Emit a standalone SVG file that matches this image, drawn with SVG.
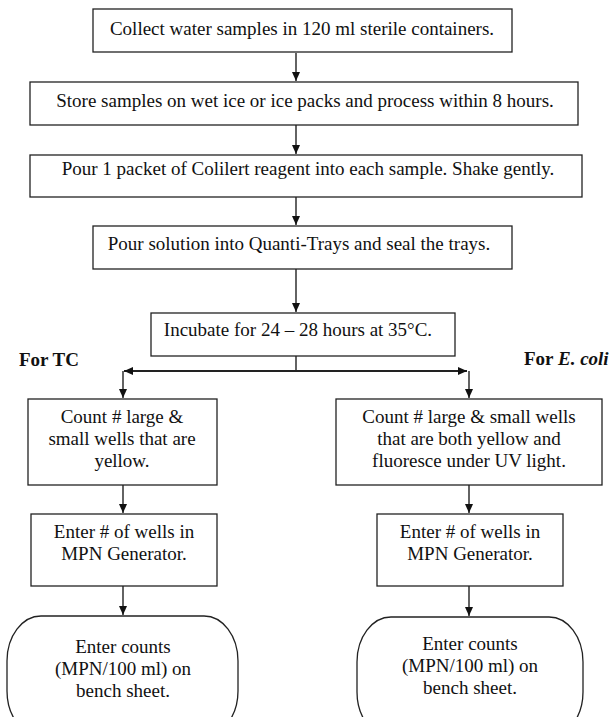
<svg xmlns="http://www.w3.org/2000/svg" width="611" height="717" viewBox="0 0 611 717">
<style>
.box{fill:#fff;stroke:#222;stroke-width:1.3}
text{font-family:'Liberation Serif','Times New Roman',serif;font-size:19px;fill:#111}
.t{text-anchor:middle}
.b{font-weight:bold}
.c{fill:none;stroke:#222;stroke-width:1.4}
.h{stroke-width:1.8}
</style>
<defs>
<marker id="ah" markerWidth="10" markerHeight="10" refX="9" refY="5" orient="auto" markerUnits="userSpaceOnUse">
<path d="M0,1 L9,5 L0,9 Z" fill="#111"/>
</marker>
</defs>
<rect width="611" height="717" fill="#fff"/>
<g id="connectors">
<line class="c" x1="296" y1="53" x2="296" y2="81" marker-end="url(#ah)"/>
<line class="c" x1="296" y1="125" x2="296" y2="154" marker-end="url(#ah)"/>
<line class="c" x1="296" y1="197" x2="296" y2="225" marker-end="url(#ah)"/>
<line class="c" x1="296" y1="269" x2="296" y2="312" marker-end="url(#ah)"/>
<line class="c" x1="296" y1="356" x2="296" y2="371"/>
<line class="c h" x1="296" y1="371" x2="124" y2="371" marker-end="url(#ah)"/>
<line class="c h" x1="296" y1="371" x2="467" y2="371" marker-end="url(#ah)"/>
<line class="c" x1="123" y1="371" x2="123" y2="398" marker-end="url(#ah)"/>
<line class="c" x1="469" y1="371" x2="469" y2="398" marker-end="url(#ah)"/>
<line class="c" x1="123" y1="485" x2="123" y2="513" marker-end="url(#ah)"/>
<line class="c" x1="469" y1="485" x2="469" y2="513" marker-end="url(#ah)"/>
<line class="c" x1="123" y1="586" x2="123" y2="615" marker-end="url(#ah)"/>
<line class="c" x1="469" y1="586" x2="469" y2="616" marker-end="url(#ah)"/>
</g>
<g id="n1"><rect class="box" x="93" y="9" width="419" height="43"/><text class="t" font-family="Liberation Serif" x="302" y="35">Collect water samples in 120 ml sterile containers.</text></g>
<g id="n2"><rect class="box" x="30" y="82" width="548" height="43"/><text class="t" font-family="Liberation Serif" x="305" y="107">Store samples on wet ice or ice packs and process within 8 hours.</text></g>
<g id="n3"><rect class="box" x="30" y="155" width="552" height="42"/><text class="t" font-family="Liberation Serif" x="308" y="175">Pour 1 packet of Colilert reagent into each sample. Shake gently.</text></g>
<g id="n4"><rect class="box" x="93" y="226" width="419" height="43"/><text class="t" font-family="Liberation Serif" x="299" y="250">Pour solution into Quanti-Trays and seal the trays.</text></g>
<g id="n5"><rect class="box" x="151" y="313" width="304" height="43"/><text class="t" font-family="Liberation Serif" x="298" y="336">Incubate for 24 – 28 hours at 35°C.</text></g>
<g id="lblTC"><text class="b" font-family="Liberation Serif" x="19" y="366">For TC</text></g>
<g id="lblEC"><text class="b" font-family="Liberation Serif" x="524" y="365">For <tspan font-style="italic">E. coli</tspan></text></g>
<g id="n6"><rect class="box" x="28" y="399" width="189" height="86"/><text class="t" font-family="Liberation Serif"><tspan x="122" y="423">Count # large &amp;</tspan><tspan x="122" y="445">small wells that are</tspan><tspan x="122" y="467">yellow.</tspan></text></g>
<g id="n7"><rect class="box" x="336" y="399" width="266" height="86"/><text class="t" font-family="Liberation Serif"><tspan x="469" y="423">Count # large &amp; small wells</tspan><tspan x="469" y="445">that are both yellow and</tspan><tspan x="469" y="467">fluoresce under UV light.</tspan></text></g>
<g id="n8"><rect class="box" x="31" y="514" width="186" height="72"/><text class="t" font-family="Liberation Serif"><tspan x="124" y="538">Enter # of wells in</tspan><tspan x="124" y="560">MPN Generator.</tspan></text></g>
<g id="n9"><rect class="box" x="377" y="514" width="186" height="72"/><text class="t" font-family="Liberation Serif"><tspan x="470" y="538">Enter # of wells in</tspan><tspan x="470" y="560">MPN Generator.</tspan></text></g>
<g id="n10"><rect class="box" x="7" y="616" width="231" height="120" rx="34" ry="45"/><text class="t" font-family="Liberation Serif"><tspan x="123" y="653">Enter counts</tspan><tspan x="123" y="675">(MPN/100 ml) on</tspan><tspan x="123" y="697">bench sheet.</tspan></text></g>
<g id="n11"><rect class="box" x="357" y="617" width="226" height="120" rx="34" ry="45"/><text class="t" font-family="Liberation Serif"><tspan x="470" y="650">Enter counts</tspan><tspan x="470" y="672">(MPN/100 ml) on</tspan><tspan x="470" y="694">bench sheet.</tspan></text></g>
</svg>
